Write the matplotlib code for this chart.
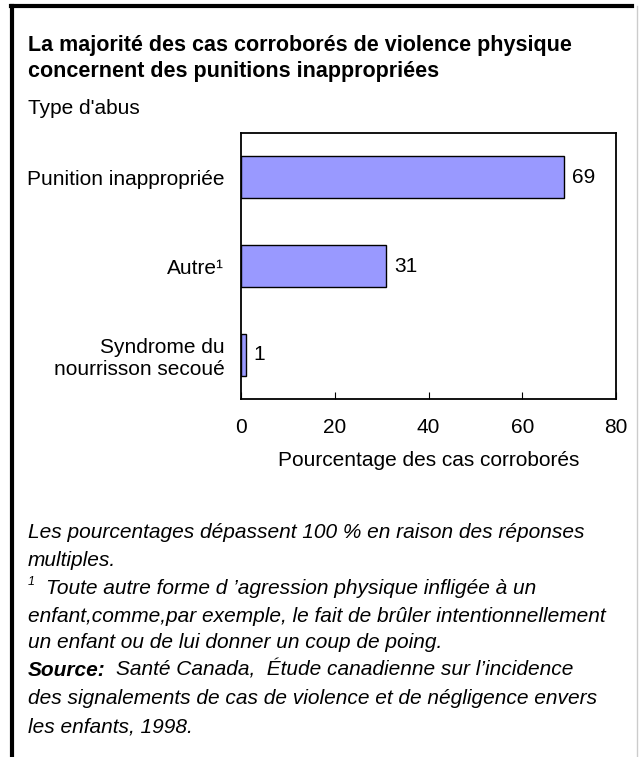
import matplotlib
matplotlib.use("Agg")
import matplotlib.pyplot as plt
from matplotlib.lines import Line2D

categories = ["Punition inappropriée", "Autre¹", "Syndrome du\nnourrisson secoué"]
values = [69, 31, 1]
xticks = [0, 20, 40, 60, 80]

title_lines = ["La majorité des cas corroborés de violence physique",
               "concernent des punitions inappropriées"]
notes = [
    "Les pourcentages dépassent 100 % en raison des réponses",
    "multiples.",
    "Toute autre forme d ’agression physique infligée à un",
    "enfant,comme,par exemple, le fait de brûler intentionnellement",
    "un enfant ou de lui donner un coup de poing.",
    "Santé Canada,  Étude canadienne sur l’incidence",
    "des signalements de cas de violence et de négligence envers",
    "les enfants, 1998.",
]

W, H = 639, 757
FS = 15
plt.rcParams["font.family"] = ["Liberation Sans", "DejaVu Sans"]

fig = plt.figure(figsize=(W / 100, H / 100), dpi=100)

def fx(px):
    return px / W

def fy(py):
    return 1 - py / H

# frame round the chart
fig.add_artist(Line2D([fx(12), fx(12)], [fy(6), 0], color="black", lw=3))
fig.add_artist(Line2D([fx(11), fx(632)], [fy(6), fy(6)], color="black", lw=3))
fig.add_artist(Line2D([fx(637), fx(637)], [fy(6), 0], color="#cccccc", lw=1))

top, bottom = 133, 399
ax = fig.add_axes([fx(241), fy(bottom), fx(616 - 241), (bottom - top) / H])

pos = list(range(len(categories)))[::-1]
bars = ax.barh(pos, values, height=0.47, color="#9999ff", edgecolor="black", linewidth=1)
for b, v in zip(bars, values):
    ax.text(v + 1.7, b.get_y() + b.get_height() / 2, str(v), va="center", ha="left", fontsize=FS)

ax.set_xlim(0, 80)
ax.set_ylim(-0.5, 2.5)
ax.set_xticks(xticks)
ax.set_xticklabels([str(t) for t in xticks], fontsize=FS)
ax.tick_params(axis="x", direction="in", length=5, pad=14)
ax.set_yticks(pos)
ax.set_yticklabels(categories, fontsize=FS, ha="right", linespacing=1.2)
ax.tick_params(axis="y", length=0, pad=12)
for s in ax.spines.values():
    s.set_linewidth(1.3)
ax.set_xlabel("Pourcentage des cas corroborés", fontsize=FS, labelpad=10)

fig.text(fx(28), fy(45), title_lines[0], fontsize=15.5, fontweight="bold", va="center", ha="left")
fig.text(fx(28), fy(71), title_lines[1], fontsize=15.5, fontweight="bold", va="center", ha="left")
fig.text(fx(28), fy(109), "Type d'abus", fontsize=FS, va="center", ha="left")

ys = [532, 560, 588, 616, 643, 670, 698, 727]
for i, (line, y) in enumerate(zip(notes, ys)):
    x = 28
    if i == 2:
        fig.text(fx(28), fy(y - 6), "1", fontsize=9, style="italic", va="center")
        x = 46
    if i == 5:
        src = fig.text(fx(28), fy(y), "Source:", fontsize=FS, style="italic", fontweight="bold", va="center")
        ext = src.get_window_extent(renderer=fig.canvas.get_renderer())
        x = ext.x1 + 10
    fig.text(fx(x), fy(y), line, fontsize=FS, style="italic", va="center")

fig.savefig("out.png", dpi=100)
